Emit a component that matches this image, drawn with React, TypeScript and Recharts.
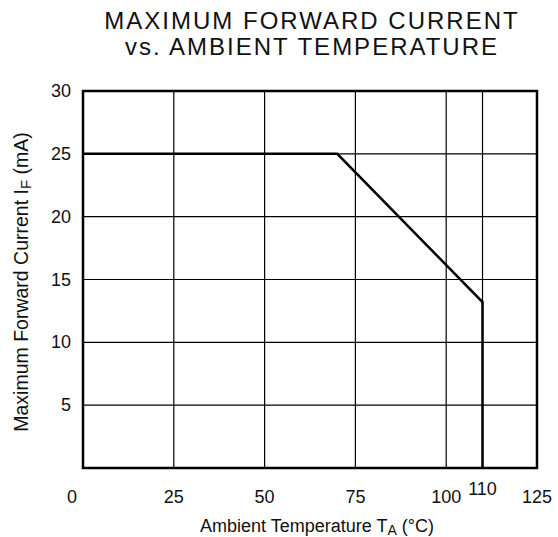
import { CartesianGrid, Label, Line, LineChart, ReferenceArea, XAxis, YAxis } from "recharts";

const temps = [0, 70, 110, 110];
const currents = [25, 25, 13.2, 0];
const xTicks = [0, 25, 50, 75, 100, 110, 125];
const yTicks = [0, 5, 10, 15, 20, 25, 30];

const data = temps.map((t, i) => ({ t, current: currents[i] }));

const font = "'Liberation Sans', Arial, Helvetica, sans-serif";

function XTick(props: any) {
  const { x, y, payload } = props;
  const v = payload.value;
  const dx = v === 0 ? -11 : 0;
  const dy = v === 110 ? -8 : 0;
  return (
    <text x={x + dx} y={y + dy + 27} textAnchor="middle" fontSize={18} fontFamily={font} fill="#111">
      {v}
    </text>
  );
}

function YTick(props: any) {
  const { x, y, payload } = props;
  if (payload.value === 0) return null;
  return (
    <text x={x} y={y + 6} textAnchor="end" fontSize={18} fontFamily={font} fill="#111">
      {payload.value}
    </text>
  );
}

function XLabel() {
  return (
    <text x={317} y={532} textAnchor="middle" fontSize={18} fontFamily={font} fill="#111">
      Ambient Temperature T
      <tspan fontSize={14} dy={3}>A</tspan>
      <tspan dy={-3}> (°C)</tspan>
    </text>
  );
}

function YLabel() {
  return (
    <text
      x={0}
      y={0}
      transform="translate(28 282) rotate(-90)"
      textAnchor="middle"
      fontSize={19.5}
      fontFamily={font}
      fill="#111"
    >
      Maximum Forward Current I
      <tspan fontSize={15} dy={3}>F</tspan>
      <tspan dy={-3}> (mA)</tspan>
    </text>
  );
}

export default function App() {
  return (
    <div style={{ position: "absolute", left: 0, top: 0, width: 558, height: 537, background: "#fff" }}>
      <div
        style={{
          position: "absolute",
          left: 2,
          top: 8,
          width: 620,
          textAlign: "center",
          fontFamily: font,
          fontSize: 24,
          lineHeight: "26px",
          letterSpacing: 2,
          color: "#111",
        }}
      >
        MAXIMUM FORWARD CURRENT
        <br />
        vs. AMBIENT TEMPERATURE
      </div>
      <LineChart width={558} height={537} data={data} margin={{ top: 91, right: 21, bottom: 0, left: 0 }}>
        <CartesianGrid stroke="#000" strokeWidth={1.2} />
        <XAxis
          dataKey="t"
          type="number"
          domain={[0, 125]}
          ticks={xTicks}
          tick={<XTick />}
          tickLine={false}
          axisLine={false}
          height={69}
        >
          <Label content={<XLabel />} />
        </XAxis>
        <YAxis
          type="number"
          domain={[0, 30]}
          ticks={yTicks}
          tick={<YTick />}
          tickLine={false}
          axisLine={false}
          tickMargin={6}
          width={83}
        >
          <Label content={<YLabel />} />
        </YAxis>
        <ReferenceArea x1={0} x2={125} y1={0} y2={30} fill="none" stroke="#000" strokeWidth={2.5} ifOverflow="visible" />
        <Line
          dataKey="current"
          type="linear"
          stroke="#000"
          strokeWidth={2.5}
          dot={false}
          isAnimationActive={false}
        />
      </LineChart>
    </div>
  );
}
